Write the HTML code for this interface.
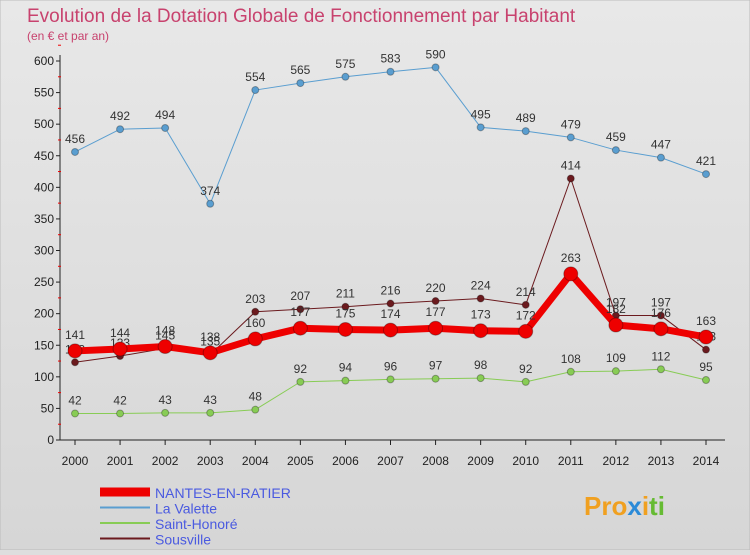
<!DOCTYPE html>
<html><head><meta charset="utf-8"><style>
body{margin:0;width:750px;height:550px;overflow:hidden;background:#dedede;font-family:"Liberation Sans",sans-serif}
svg text{font-family:"Liberation Sans",sans-serif}
</style></head><body>
<svg id="c" width="750" height="550">
<defs><linearGradient id="bg" x1="0" y1="0" x2="0" y2="1"><stop offset="0" stop-color="#e8e8e8"/><stop offset="1" stop-color="#d6d6d6"/></linearGradient></defs>
<rect x="0" y="0" width="750" height="550" fill="url(#bg)" stroke="#bbb"/>
<text x="27" y="22" font-size="19" fill="#c8426e">Evolution de la Dotation Globale de Fonctionnement par Habitant</text>
<text x="27" y="40" font-size="12" fill="#c8426e">(en € et par an)</text>
<g id="axes"></g><g id="series"></g>
<g id="legend"></g>
<text x="584" y="515" font-size="26" font-weight="bold"><tspan fill="#f0a020">Pro</tspan><tspan fill="#2a8ad8">x</tspan><tspan fill="#f0a020">i</tspan><tspan fill="#66bb33">ti</tspan></text>
</svg>
<script>
const years=[2000,2001,2002,2003,2004,2005,2006,2007,2008,2009,2010,2011,2012,2013,2014];
const yTicks=[0,50,100,150,200,250,300,350,400,450,500,550,600];
const nantes=[141,144,148,138,160,177,175,174,177,173,172,263,182,176,163];
const laValette=[456,492,494,374,554,565,575,583,590,495,489,479,459,447,421];
const saintHonore=[42,42,43,43,48,92,94,96,97,98,92,108,109,112,95];
const sousville=[123,133,145,135,203,207,211,216,220,224,214,414,197,197,143];
const NS='http://www.w3.org/2000/svg';
const X=i=>75+i*(706-75)/(years.length-1);
const Y=v=>440-v*(440-61)/600;
function mk(t,a,p){const e=document.createElementNS(NS,t);for(const k in a)e.setAttribute(k,a[k]);p.appendChild(e);return e;}
const ax=document.getElementById('axes');
const yl=mk('line',{x1:60,y1:55,x2:60,y2:440,stroke:'#222'},ax);


const xl=mk('line',{x1:60,y1:440,x2:725,y2:440,stroke:'#222'},ax);


yTicks.forEach(v=>{
 mk('line',{x1:56,x2:60,y1:Y(v),y2:Y(v),stroke:'#222'},ax);
 mk('line',{x1:58,x2:61,y1:Y(v+25),y2:Y(v+25),stroke:'#e00'},ax);
 const t=mk('text',{x:54,y:Y(v)+4,'font-size':12,'text-anchor':'end',fill:'#222'},ax);t.textContent=v;
 
 
});
years.forEach((y,i)=>{
 mk('line',{x1:X(i),x2:X(i),y1:440,y2:445,stroke:'#222'},ax);
 const t=mk('text',{x:X(i),y:465,'font-size':12,'text-anchor':'middle',fill:'#222'},ax);t.textContent=y;
 
 
});
const sg=document.getElementById('series');
function draw(data,color,w,r,name,ldy){
 const g=mk('g',{},sg);
 
 
 mk('polyline',{points:data.map((v,i)=>X(i)+','+Y(v)).join(' '),fill:'none',stroke:color,'stroke-width':w,'stroke-linejoin':'round'},g);
 data.forEach((v,i)=>{
  const c=mk('circle',{cx:X(i),cy:Y(v),r:r,fill:color,stroke:'rgba(0,0,0,0.3)'},g);
  
  
  const t=mk('text',{x:X(i),y:Y(v)+ldy,'font-size':12,'text-anchor':'middle',fill:'#333'},g);t.textContent=v;
  
  
 });
}
draw(laValette,'#5a9ed0',1,3.5,'la-valette',-9);
draw(saintHonore,'#88cc55',1,3.5,'saint-honore',-9);
draw(sousville,'#6b1a1e',1,3.5,'sousville',-9);
draw(nantes,'#ee0000',7,7,'nantes-en-ratier',-12);
const lg=document.getElementById('legend');
[['NANTES-EN-RATIER','#ee0000',9],['La Valette','#5a9ed0',2],['Saint-Honoré','#88cc55',2],['Sousville','#6b1a1e',2]].forEach((e,i)=>{
 const y=492+i*15.5;
 const l=mk('line',{x1:100,x2:150,y1:y,y2:y,stroke:e[1],'stroke-width':e[2]},lg);
 
 
 const t=mk('text',{x:155,y:y+6,'font-size':14,fill:'#4a5ae0'},lg);t.textContent=e[0];
 
 
});
</script>
</body></html>
